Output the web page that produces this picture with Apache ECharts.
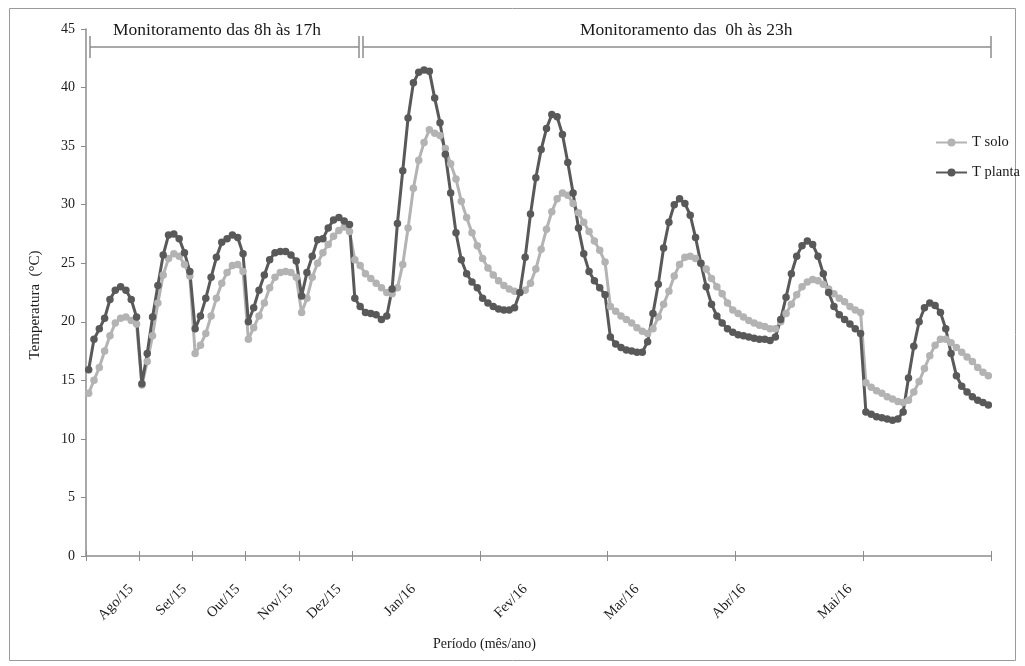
<!DOCTYPE html>
<html>
<head>
<meta charset="utf-8">
<title>Temperatura do solo e da planta</title>
<script src="https://cdn.jsdelivr.net/npm/echarts@6/dist/echarts.min.js"></script>
<style>
  html, body { margin: 0; padding: 0; background: #fff; }
  #chart { width: 1025px; height: 666px; }
</style>
</head>
<body>
<div id="chart"></div>
<script>
// Months of the campaign and how many hourly readings each month contributes
const monthLabels = ['Ago/15', 'Set/15', 'Out/15', 'Nov/15', 'Dez/15', 'Jan/16', 'Fev/16', 'Mar/16', 'Abr/16', 'Mai/16'];
const firstHour = [8, 8, 8, 8, 8, 0, 0, 0, 0, 0];
const hoursPerMonth = [10, 10, 10, 10, 10, 24, 24, 24, 24, 24];
// category index where each month label is written
const labelIndex = [8, 18, 28, 38, 47, 61, 82, 103, 123, 143];

// Y axis ticks (°C)
const yTicks = { min: 0, max: 45, step: 5 };

// Mean hourly soil temperature (°C), one row per month
const tSolo = [
  13.9, 15.0, 16.1, 17.5, 18.8, 19.9, 20.3, 20.4, 20.1, 19.8,
  14.6, 16.6, 18.8, 21.6, 24.0, 25.4, 25.8, 25.6, 24.9, 23.9,
  17.3, 18.0, 19.0, 20.5, 22.0, 23.3, 24.2, 24.8, 24.9, 24.3,
  18.5, 19.5, 20.5, 21.6, 22.9, 23.8, 24.2, 24.3, 24.2, 23.8,
  20.8, 22.0, 23.8, 25.0, 25.9, 26.6, 27.3, 27.8, 28.1, 27.7,
  25.3, 24.8, 24.1, 23.7, 23.3, 22.9, 22.5, 22.4, 22.9, 24.9, 28.0, 31.4, 33.8, 35.3, 36.4, 36.1, 35.9, 34.8, 33.5, 32.2, 30.3, 28.9, 27.6, 26.5,
  25.4, 24.6, 24.0, 23.5, 23.1, 22.8, 22.6, 22.5, 22.7, 23.3, 24.5, 26.2, 27.9, 29.4, 30.5, 31.0, 30.8, 30.1, 29.3, 28.5, 27.7, 26.9, 26.1, 25.1,
  21.3, 20.9, 20.5, 20.2, 19.9, 19.5, 19.2, 19.0, 19.4, 20.4, 21.5, 22.6, 23.9, 24.9, 25.5, 25.6, 25.4, 25.0, 24.5, 23.7, 23.0, 22.4, 21.6, 21.0,
  20.7, 20.4, 20.1, 19.9, 19.7, 19.6, 19.4, 19.4, 20.0, 20.7, 21.5, 22.3, 23.0, 23.4, 23.6, 23.5, 23.2, 22.8, 22.4, 22.0, 21.7, 21.3, 21.0, 20.8,
  14.8, 14.4, 14.1, 13.9, 13.6, 13.4, 13.2, 13.1, 13.3, 14.0, 14.9, 16.0, 17.1, 18.0, 18.5, 18.5, 18.2, 17.8, 17.4, 17.0, 16.6, 16.1, 15.7, 15.4
];

// Mean hourly plant temperature (°C), one row per month
const tPlanta = [
  15.9, 18.5, 19.4, 20.3, 21.9, 22.7, 23.0, 22.7, 21.9, 20.4,
  14.7, 17.3, 20.4, 23.1, 25.7, 27.4, 27.5, 27.1, 25.9, 24.3,
  19.4, 20.5, 22.0, 23.8, 25.5, 26.8, 27.1, 27.4, 27.2, 25.8,
  20.0, 21.2, 22.7, 24.0, 25.3, 25.9, 26.0, 26.0, 25.7, 25.2,
  22.2, 24.2, 25.6, 27.0, 27.1, 28.0, 28.7, 28.9, 28.6, 28.3,
  22.0, 21.3, 20.8, 20.7, 20.6, 20.2, 20.5, 22.8, 28.4, 32.9, 37.4, 40.4, 41.3, 41.5, 41.4, 39.1, 37.0, 34.3, 31.0, 27.6, 25.3, 24.1, 23.4, 22.9,
  22.0, 21.6, 21.3, 21.1, 21.0, 21.0, 21.2, 22.5, 25.5, 29.2, 32.3, 34.7, 36.5, 37.7, 37.5, 36.0, 33.6, 31.0, 28.0, 25.8, 24.3, 23.5, 22.9, 22.3,
  18.7, 18.1, 17.8, 17.6, 17.5, 17.4, 17.4, 18.3, 20.7, 23.2, 26.3, 28.5, 30.0, 30.5, 30.1, 29.1, 27.2, 25.0, 23.0, 21.5, 20.5, 19.9, 19.4, 19.1,
  18.9, 18.8, 18.7, 18.6, 18.5, 18.5, 18.4, 18.7, 20.2, 22.1, 24.1, 25.6, 26.5, 26.9, 26.6, 25.6, 24.1, 22.5, 21.3, 20.6, 20.2, 19.8, 19.4, 19.0,
  12.3, 12.1, 11.9, 11.8, 11.7, 11.6, 11.7, 12.3, 15.2, 17.9, 20.0, 21.2, 21.6, 21.4, 20.8, 19.4, 17.3, 15.4, 14.5, 14.0, 13.6, 13.3, 13.1, 12.9
];

// Build the hourly categories and the month boundaries
const categories = [];
const monthStart = [];
monthLabels.forEach(function (m, mi) {
  monthStart.push(categories.length);
  for (let h = 0; h < hoursPerMonth[mi]; h++) {
    categories.push(m + ' ' + (firstHour[mi] + h) + 'h');
  }
});
const labelAt = {};
labelIndex.forEach(function (idx, mi) { labelAt[idx] = monthLabels[mi]; });

const FONT = '"Liberation Serif", "Times New Roman", serif';
const AXIS_GRAY = '#8c8c8c';
const TEXT = '#1a1a1a';

const chart = echarts.init(document.getElementById('chart'), null, { renderer: 'canvas' });

const tickFilter = function (index) { return monthStart.indexOf(index) >= 0; };

chart.setOption({
  backgroundColor: '#ffffff',
  animation: false,
  grid: { left: 86, right: 34, top: 29, bottom: 110 },
  legend: {
    orient: 'vertical',
    left: 930,
    top: 130,
    itemGap: 15,
    itemWidth: 31,
    itemHeight: 10,
    textStyle: { fontFamily: FONT, fontSize: 14.5, color: TEXT },
    data: ['T solo', 'T planta']
  },
  xAxis: [{
    type: 'category',
    data: categories,
    boundaryGap: true,
    axisLine: { lineStyle: { color: AXIS_GRAY, width: 1.5 } },
    axisTick: { show: true, length: 5, interval: tickFilter, lineStyle: { color: AXIS_GRAY } },
    axisLabel: {
      interval: function (index) { return labelAt[index] !== undefined; },
      formatter: function (value, index) { return labelAt[index] || ''; },
      rotate: 45,
      margin: 31,
      fontFamily: FONT,
      fontSize: 14.5,
      color: TEXT
    },
    splitLine: { show: false }
  }, {
    type: 'category',
    data: categories,
    boundaryGap: true,
    position: 'bottom',
    axisLine: { show: false },
    axisTick: { show: true, inside: true, length: 5, interval: tickFilter, lineStyle: { color: AXIS_GRAY } },
    axisLabel: { show: false },
    splitLine: { show: false }
  }],
  yAxis: {
    type: 'value',
    min: yTicks.min,
    max: yTicks.max,
    interval: yTicks.step,
    axisLine: { show: true, lineStyle: { color: AXIS_GRAY, width: 1.5 } },
    axisTick: { show: true, length: 5, lineStyle: { color: AXIS_GRAY } },
    axisLabel: { fontFamily: FONT, fontSize: 14, color: TEXT, margin: 11 },
    splitLine: { show: false }
  },
  series: [{
    name: 'T solo',
    type: 'line',
    data: tSolo,
    symbol: 'circle',
    symbolSize: 7.5,
    showAllSymbol: true,
    color: '#b3b3b3',
    lineStyle: { width: 3, color: '#b3b3b3' },
    itemStyle: { color: '#b3b3b3' }
  }, {
    name: 'T planta',
    type: 'line',
    data: tPlanta,
    symbol: 'circle',
    symbolSize: 7.5,
    showAllSymbol: true,
    color: '#595959',
    lineStyle: { width: 3, color: '#595959' },
    itemStyle: { color: '#595959' }
  }],
  graphic: [
    // outer frame
    { type: 'rect', shape: { x: 9.5, y: 8.5, width: 1006, height: 652 }, style: { fill: null, stroke: '#9a9a9a', lineWidth: 1 }, silent: true },
    // bracket for the 8h-17h period
    { type: 'line', shape: { x1: 90, y1: 47, x2: 359, y2: 47 }, style: { stroke: AXIS_GRAY, lineWidth: 1.5 } },
    { type: 'line', shape: { x1: 90, y1: 36, x2: 90, y2: 58 }, style: { stroke: AXIS_GRAY, lineWidth: 1.5 } },
    { type: 'line', shape: { x1: 359, y1: 36, x2: 359, y2: 58 }, style: { stroke: AXIS_GRAY, lineWidth: 1.5 } },
    // bracket for the 0h-23h period
    { type: 'line', shape: { x1: 363, y1: 47, x2: 991, y2: 47 }, style: { stroke: AXIS_GRAY, lineWidth: 1.5 } },
    { type: 'line', shape: { x1: 363, y1: 36, x2: 363, y2: 58 }, style: { stroke: AXIS_GRAY, lineWidth: 1.5 } },
    { type: 'line', shape: { x1: 991, y1: 36, x2: 991, y2: 58 }, style: { stroke: AXIS_GRAY, lineWidth: 1.5 } },
    { type: 'text', left: 113, top: 21, style: { text: 'Monitoramento das 8h às 17h', font: '17.5px ' + FONT, fill: TEXT } },
    { type: 'text', left: 580, top: 21, style: { text: 'Monitoramento das  0h às 23h', font: '17.5px ' + FONT, fill: TEXT } },
    // axis titles
    { type: 'text', left: 433, top: 637, style: { text: 'Período (mês/ano)', font: '14px ' + FONT, fill: TEXT } },
    { type: 'text', x: 35, y: 305, rotation: Math.PI / 2, style: { text: 'Temperatura  (°C)', font: '15px ' + FONT, fill: TEXT, align: 'center', verticalAlign: 'middle' } }
  ]
});
</script>
</body>
</html>
